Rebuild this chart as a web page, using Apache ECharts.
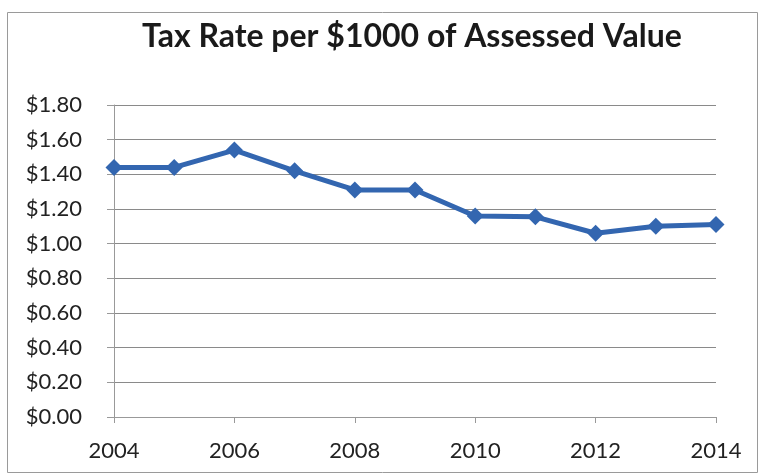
<!DOCTYPE html>
<html><head><meta charset="utf-8">
<script src="https://cdn.jsdelivr.net/npm/echarts@6/dist/echarts.min.js"></script>
<style>html,body{margin:0;padding:0;background:#fff}#c{width:760px;height:476px}</style>
</head><body><div id="c"></div>
<script>
const years = ['2004','2005','2006','2007','2008','2009','2010','2011','2012','2013','2014'];
const taxRate = [1.44, 1.44, 1.54, 1.42, 1.31, 1.31, 1.16, 1.155, 1.06, 1.10, 1.11];
const titleText = 'Tax Rate per $1000 of Assessed Value';

const chart = echarts.init(document.getElementById('c'));
chart.setOption({
  backgroundColor: '#fff',
  animation: false,
  graphic: [{type:'rect', shape:{x:7.5,y:12.5,width:750,height:460}, style:{fill:'none', stroke:'#9a9a9a', lineWidth:1}}],
  title: {text: titleText, left: 137, top: 16,
    textStyle:{fontFamily:'Lato', fontWeight:'bold', fontSize:32, color:'#1a1a1a'}},
  grid: {left:114, right:44, top:105, bottom:59},
  xAxis: {type:'category', data: years, boundaryGap:false,
    axisLine:{lineStyle:{color:'#999', width:1}},
    axisTick:{interval:1, length:6, lineStyle:{color:'#999'}},
    axisLabel:{interval:1, fontFamily:'Lato', fontSize:22, color:'#222', margin:23},
    splitLine:{show:false}},
  yAxis: {type:'value', min:0, max:1.8, interval:0.2,
    axisLine:{show:true, lineStyle:{color:'#999'}},
    axisTick:{show:true, length:7, lineStyle:{color:'#999'}},
    axisLabel:{fontFamily:'Lato', fontSize:22, color:'#222', margin:32,
      formatter: v => '$' + v.toFixed(2)},
    splitLine:{lineStyle:{color:'#8a8a8a', width:1}}},
  series: [{type:'line', data: taxRate, symbol:'diamond', symbolSize:17,
    lineStyle:{color:'#3366b0', width:5}, itemStyle:{color:'#3366b0'}}]
});
</script></body></html>
